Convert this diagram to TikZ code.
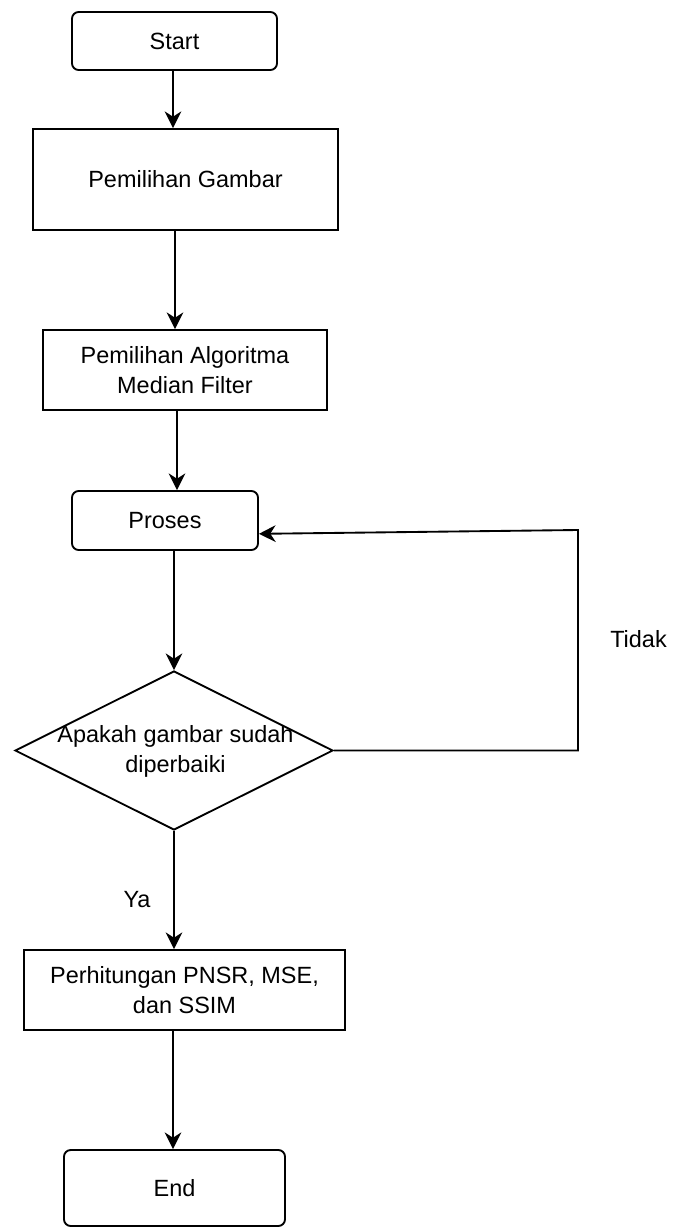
\documentclass[tikz,border=0pt]{standalone}
\usepackage{fontspec}
\setmainfont{Liberation Sans}
\usetikzlibrary{arrows.meta,shapes.geometric}
\begin{document}
\begin{tikzpicture}[x=0.75pt,y=-0.75pt,
  every node/.style={font=\fontsize{17.6pt}{22.5pt}\selectfont},
  boxst/.style={draw, line width=1.4pt, inner sep=0pt, align=center},
  termst/.style={boxst, rounded corners=5pt},
  decst/.style={draw, line width=1.4pt, shape=diamond, inner sep=0pt, minimum width=238.5pt, minimum height=119.25pt, aspect=2},
  lbl/.style={inner sep=0pt, align=center},
  arr/.style={line width=1.4pt, -{Stealth[length=12.5pt,width=12.5pt,inset=4pt]}}
]
\useasboundingbox (0,0) rectangle (683,1227);
\fill[white] (0,0) rectangle (683,1227);

\node[termst, minimum width=153.75pt, minimum height=43.5pt] (start) at (174.5,41) {Start};
\node[boxst, minimum width=228.75pt, minimum height=75.75pt] (gambar) at (185.5,179.5) {Pemilihan Gambar};
\node[boxst, minimum width=213pt, minimum height=60pt] (algo) at (185,370) {Pemilihan Algoritma\\Median Filter};
\node[termst, minimum width=139.5pt, minimum height=44.25pt] (proses) at (165,520.5) {Proses};
\node[decst] (dec) at (174,750.5) {};
\node[lbl] (dectext) at (175.5,751) {Apakah gambar sudah\\diperbaiki};
\node[boxst, minimum width=240.75pt, minimum height=60pt] (hitung) at (184.5,990) {Perhitungan PNSR, MSE,\\dan SSIM};
\node[termst, minimum width=165.75pt, minimum height=57pt] (end) at (174.5,1188) {End};

\node[lbl] (tidak) at (638.5,639) {Tidak};
\node[lbl] (ya) at (137,900) {Ya};

\coordinate (x1) at (173,0);
\coordinate (x2) at (175,0);
\coordinate (x3) at (177,0);
\coordinate (x4) at (174,0);
\coordinate (lr) at (578,750.5);
\coordinate (ur) at (578,530);

\draw[arr] (start.south -| x1) -- (gambar.north -| x1);
\draw[arr] (gambar.south -| x2) -- (algo.north -| x2);
\draw[arr] (algo.south -| x3) -- (proses.north -| x3);
\draw[arr] (proses.south -| x4) -- (dec.north);
\draw[arr] (dec.south) -- (hitung.north -| x4);
\draw[arr] (hitung.south -| x1) -- (end.north -| x1);
\draw[arr] (dec.east) -- (lr) -- (ur) -- ([yshift=-10pt]proses.east);
\end{tikzpicture}
\end{document}
